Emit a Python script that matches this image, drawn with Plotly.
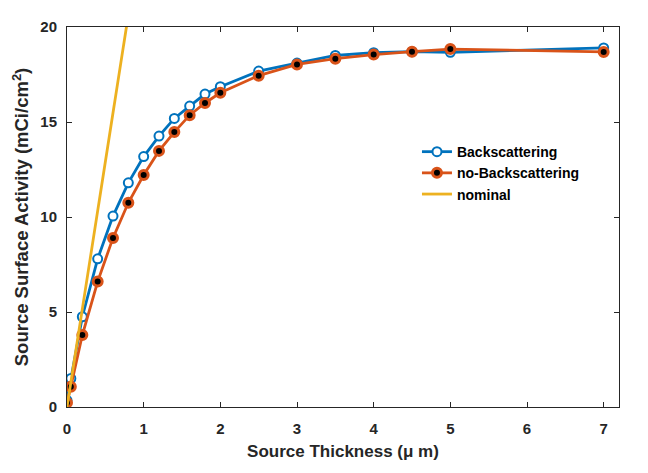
import plotly.graph_objects as go

thickness = [0, 0.05, 0.2, 0.4, 0.6, 0.8, 1.0, 1.2, 1.4, 1.6, 1.8, 2.0, 2.5, 3.0, 3.5, 4.0, 4.5, 5.0, 7.0]
backscattering = [0.35, 1.5, 4.75, 7.8, 10.05, 11.8, 13.18, 14.26, 15.19, 15.84, 16.47, 16.86, 17.68, 18.1, 18.5, 18.65, 18.7, 18.67, 18.9]
no_backscattering = [0.23, 1.07, 3.79, 6.6, 8.9, 10.75, 12.21, 13.48, 14.47, 15.36, 16.0, 16.54, 17.44, 18.03, 18.33, 18.55, 18.7, 18.84, 18.69]
nominal_x = [0, 1.0]
nominal_y = [0, 25.8]

BLUE = "#0072BD"
ORANGE = "#D95319"
YELLOW = "#EDB120"
TXT = "#262626"
FONT = "Liberation Sans, Arial, sans-serif"

fig = go.Figure()
fig.add_trace(go.Scatter(
    x=thickness, y=backscattering, name="Backscattering", mode="lines+markers",
    line=dict(color=BLUE, width=2.8),
    marker=dict(symbol="circle", size=9, color="white", line=dict(color=BLUE, width=2)),
))
fig.add_trace(go.Scatter(
    x=thickness, y=no_backscattering, name="no-Backscattering", mode="lines+markers",
    line=dict(color=ORANGE, width=2.8),
    marker=dict(symbol="circle", size=9, color="black", line=dict(color=ORANGE, width=3)),
))
fig.add_trace(go.Scatter(
    x=nominal_x, y=nominal_y, name="nominal", mode="lines",
    line=dict(color=YELLOW, width=2.8),
))

axis_common = dict(
    showgrid=False, zeroline=False, showline=True, mirror="ticks",
    linecolor=TXT, linewidth=1, ticks="inside", ticklen=5, tickcolor=TXT,
    tickfont=dict(family=FONT, size=15, color=TXT, weight="bold"),
)

fig.update_layout(
    width=648, height=473,
    margin=dict(l=67, r=29, t=27, b=66),
    paper_bgcolor="white", plot_bgcolor="white",
    xaxis=dict(range=[0, 7.2], tickvals=[0, 1, 2, 3, 4, 5, 6, 7], ticklabelstandoff=8,
               title=dict(text="Source Thickness (μ m)", standoff=9,
                          font=dict(family=FONT, size=17, color=TXT, weight="bold")),
               **axis_common),
    yaxis=dict(range=[0, 20], tickvals=[0, 5, 10, 15, 20], ticklabelstandoff=6,
               title=dict(text="Source Surface Activity (mCi/cm<sup>2</sup>)", standoff=6,
                          font=dict(family=FONT, size=18.5, color=TXT, weight="bold")),
               **axis_common),
    legend=dict(x=0.634, y=0.713, xanchor="left", yanchor="top",
                bgcolor="rgba(0,0,0,0)", borderwidth=0, tracegroupgap=0,
                font=dict(family=FONT, size=14, color="black", weight="bold")),
    showlegend=True,
)

fig.write_html("out.html")
